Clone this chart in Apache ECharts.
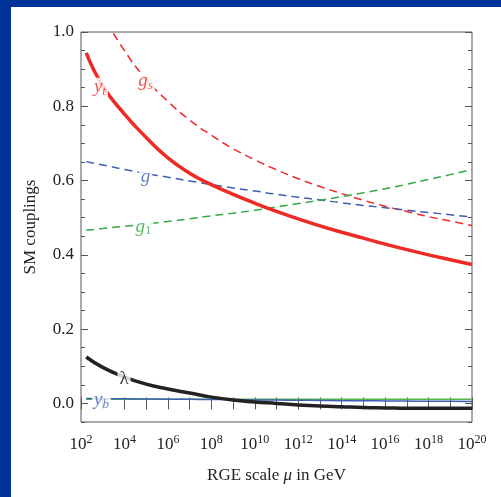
<!DOCTYPE html>
<html>
<head>
<meta charset="utf-8">
<script src="https://cdn.jsdelivr.net/npm/echarts@6/dist/echarts.min.js"></script>
<style>
  html, body { margin: 0; padding: 0; background: #fff; }
  #wrap {
    width: 490px; height: 490px;
    border-top: 7px solid #003399;
    border-left: 11px solid #003399;
  }
  #chart { width: 490px; height: 490px; }
</style>
</head>
<body>
<div id="wrap"><div id="chart"></div></div>
<script>
// log10 of the RGE scale mu (GeV)
const muExp = [2.24, 3, 4, 5, 6, 7, 8, 9, 10, 11, 12, 13, 14, 15, 16, 17, 18, 19, 20];

const yt  = [0.944, 0.855, 0.779, 0.716, 0.661, 0.620, 0.589, 0.563, 0.539, 0.517, 0.497, 0.478, 0.461, 0.445, 0.429, 0.414, 0.400, 0.387, 0.374];
const gs  = [1.155, 1.051, 0.950, 0.873, 0.813, 0.763, 0.722, 0.686, 0.656, 0.629, 0.605, 0.584, 0.565, 0.547, 0.531, 0.517, 0.503, 0.491, 0.479];
const g2  = [0.651, 0.642, 0.630, 0.619, 0.609, 0.599, 0.589, 0.580, 0.572, 0.563, 0.555, 0.548, 0.540, 0.533, 0.527, 0.520, 0.514, 0.508, 0.502];
const g1  = [0.466, 0.471, 0.477, 0.483, 0.490, 0.497, 0.505, 0.512, 0.520, 0.529, 0.538, 0.547, 0.557, 0.567, 0.578, 0.590, 0.603, 0.616, 0.630];
const lam = [0.125, 0.097, 0.071, 0.052, 0.039, 0.028, 0.017, 0.009, 0.004, 0.000, -0.004, -0.007, -0.009, -0.011, -0.012, -0.013, -0.013, -0.013, -0.013];
const yb  = [0.0135, 0.013, 0.0125, 0.012, 0.0115, 0.011, 0.0105, 0.010, 0.0095, 0.009, 0.0085, 0.008, 0.0075, 0.0072, 0.0068, 0.0064, 0.006, 0.0058, 0.0055];
const yGreen = [0.011, 0.011, 0.011, 0.011, 0.011, 0.011, 0.011, 0.011, 0.011, 0.011, 0.011, 0.011, 0.011, 0.011, 0.011, 0.011, 0.011, 0.011, 0.011];

const majorY = [0, 0.2, 0.4, 0.6, 0.8, 1.0];

// curve labels
const tagText  = ['{i|y}{si|t}', '{i|g}{si|s}', '{i|g}', '{i|g}{sn|1}', '{n|λ}', '{i|y}{si|b}'];
const tagX     = [2.87, 4.97, 4.97, 4.88, 3.98, 2.94];
const tagY     = [0.85, 0.866, 0.608, 0.474, 0.067, 0.0067];
const tagColor = ['#ee2a24', '#ee2a24', '#3f5fb5', '#33aa44', '#111', '#3f5fb5'];

const RED = '#ee2a24', BLUE = '#3f5fb5', GREEN = '#33aa44';
const FONT = '"Liberation Serif", "DejaVu Serif", serif';

function pts(vals) {
  return muExp.map((x, i) => [x, vals[i]]);
}

const myChart = echarts.init(document.getElementById('chart'));

const yBase = {
  type: 'value', min: -0.05, max: 1.0,
  axisLine: { show: false }, splitLine: { show: false }
};

myChart.setOption({
  animation: false,
  grid: { left: 70, top: 25, right: 29, bottom: 75, show: true, borderColor: '#555', borderWidth: 1 },
  xAxis: [
    {
      type: 'value', min: 2, max: 20, interval: 1, position: 'bottom',
      name: '{n|RGE scale }{i|μ}{n| in GeV}', nameLocation: 'middle', nameGap: 45,
      nameTextStyle: {
        rich: {
          n: { fontFamily: FONT, fontSize: 17, color: '#222' },
          i: { fontFamily: FONT, fontSize: 17, fontStyle: 'italic', color: '#222' }
        }
      },
      axisLine: { show: false }, splitLine: { show: false },
      axisTick: { inside: true, length: 6, lineStyle: { color: '#555' } },
      axisLabel: {
        margin: 12,
        formatter: (v) => {
          const n = Math.round(v);
          return n % 2 === 0 ? '{b|10}{s|' + n + '}' : '';
        },
        rich: {
          b: { fontFamily: FONT, fontSize: 17, color: '#222', lineHeight: 19, verticalAlign: 'bottom' },
          s: { fontFamily: FONT, fontSize: 12, color: '#222', verticalAlign: 'top' }
        }
      }
    },
    {
      type: 'value', min: 2, max: 20, interval: 1, position: 'top',
      axisLine: { show: false }, splitLine: { show: false },
      axisTick: { inside: true, length: 6, lineStyle: { color: '#555' } },
      axisLabel: { show: false }
    }
  ],
  yAxis: [
    Object.assign({}, yBase, {
      position: 'left',
      name: 'SM couplings', nameLocation: 'middle', nameGap: 42,
      nameTextStyle: { fontFamily: FONT, fontSize: 17, color: '#222' },
      axisTick: { inside: true, length: 7, customValues: majorY, lineStyle: { color: '#555' } },
      axisLabel: {
        margin: 7, customValues: majorY,
        fontFamily: FONT, fontSize: 17, color: '#222',
        formatter: (v) => v.toFixed(1)
      }
    }),
    Object.assign({}, yBase, {
      position: 'left', interval: 0.05,
      axisTick: { inside: true, length: 4, lineStyle: { color: '#555' } },
      axisLabel: { show: false }
    }),
    Object.assign({}, yBase, {
      position: 'right',
      axisTick: { inside: true, length: 7, customValues: majorY, lineStyle: { color: '#555' } },
      axisLabel: { show: false }
    }),
    Object.assign({}, yBase, {
      position: 'right', interval: 0.05,
      axisTick: { inside: true, length: 4, lineStyle: { color: '#555' } },
      axisLabel: { show: false }
    })
  ],
  series: [
    { type: 'line', data: pts(gs), smooth: true, symbol: 'none', clip: true,
      lineStyle: { color: RED, width: 1.5, type: [8, 5] } },
    { type: 'line', data: pts(g2), smooth: true, symbol: 'none',
      lineStyle: { color: BLUE, width: 1.5, type: [8, 5] } },
    { type: 'line', data: pts(g1), smooth: true, symbol: 'none',
      lineStyle: { color: GREEN, width: 1.5, type: [8, 5] } },
    { type: 'line', data: pts(yt), smooth: true, symbol: 'none',
      lineStyle: { color: RED, width: 3.5 } },
    { type: 'line', data: pts(yGreen), smooth: true, symbol: 'none',
      lineStyle: { color: '#55b548', width: 1.5 } },
    { type: 'line', data: pts(yb), smooth: true, symbol: 'none',
      lineStyle: { color: BLUE, width: 1.5 } },
    { type: 'line', data: pts(lam), smooth: true, symbol: 'none',
      lineStyle: { color: '#222', width: 3.5 } },
    {
      type: 'scatter', z: 10, symbolSize: 1,
      itemStyle: { color: 'rgba(0,0,0,0)' },
      data: tagX.map((x, i) => ({
        value: [x, tagY[i]],
        label: {
          show: true, position: 'inside', formatter: tagText[i],
          backgroundColor: '#fff', padding: [0, 2],
          rich: {
            i:  { fontFamily: FONT, fontSize: 19, fontStyle: 'italic', color: tagColor[i], lineHeight: 20, verticalAlign: 'top' },
            n:  { fontFamily: FONT, fontSize: 19, color: tagColor[i], lineHeight: 20 },
            si: { fontFamily: FONT, fontSize: 13, fontStyle: 'italic', color: tagColor[i], verticalAlign: 'bottom' },
            sn: { fontFamily: FONT, fontSize: 13, color: tagColor[i], verticalAlign: 'bottom' }
          }
        }
      }))
    }
  ]
});
</script>
</body>
</html>
